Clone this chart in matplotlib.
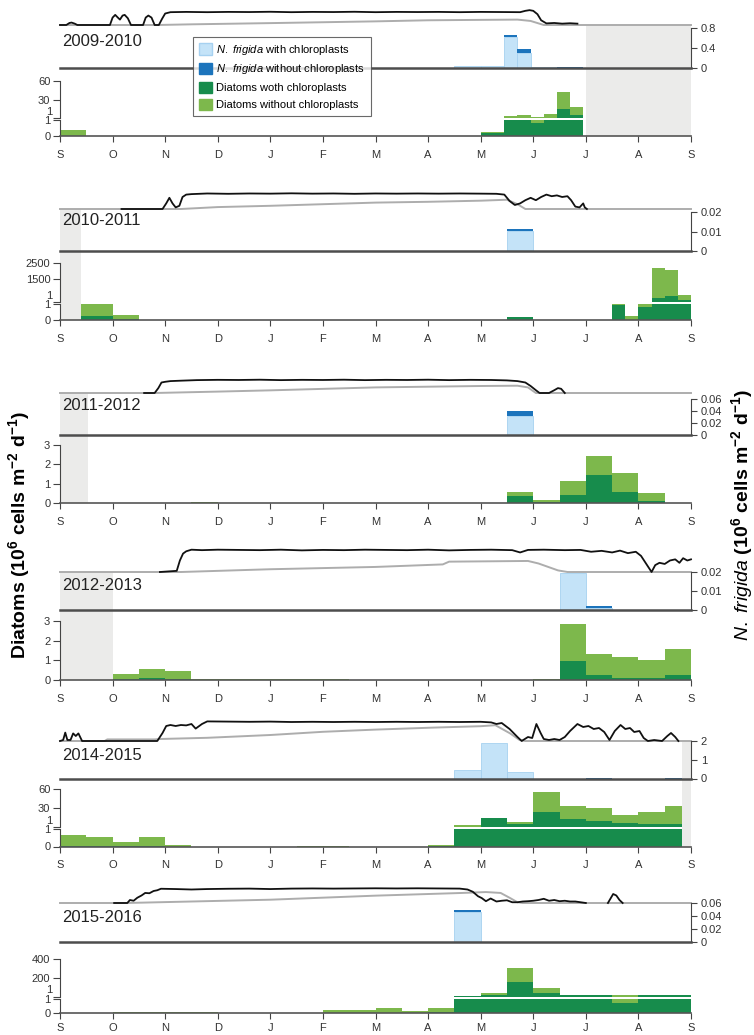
import numpy as np
import matplotlib
matplotlib.use("Agg")
import matplotlib.pyplot as plt
from matplotlib.patches import Patch

plt.rcParams["font.family"] = ["Liberation Sans Narrow", "Liberation Sans", "DejaVu Sans"]
plt.rcParams["mathtext.fontset"] = "custom"
plt.rcParams["mathtext.rm"] = "Liberation Sans"
plt.rcParams["mathtext.it"] = "Liberation Sans:italic"
plt.rcParams["mathtext.bf"] = "Liberation Sans:bold"

# colours
C_NF_CHL = "#c4e3f8"
C_NF_NO = "#1c74bc"
C_DIA_CHL = "#178c4c"
C_DIA_NO = "#7db84c"
C_GAP = "#ebebea"
C_AX = "#444444"

MONTHS = ["S", "O", "N", "D", "J", "F", "M", "A", "M", "J", "J", "A", "S"]

# time is in months since 1 September

# ---------------- 2009-2010 ----------------
t0_0910 = [0.0, 7.5, 8.0, 8.45, 8.7, 8.95, 9.2, 9.45, 9.7]
t1_0910 = [0.5, 8.0, 8.45, 8.7, 8.95, 9.2, 9.45, 9.7, 9.95]
nf_chl_0910 = [0, 0.05, 0.05, 0.63, 0.30, 0.015, 0.015, 0.008, 0.0]
nf_no_0910 = [0, 0, 0, 0.03, 0.08, 0, 0, 0.004, 0.02]
dia_chl_0910 = [0.02, 0.01, 0.17, 1.2, 1.5, 0.8, 1.5, 15, 6]
dia_no_0910 = [0.36, 0.01, 0.07, 2.8, 4.5, 1.7, 6.1, 28, 12]
gap_0910 = (10.0, 12.0)
conc_t_0910 = [0, 0.12, 0.18, 0.22, 0.28, 0.33, 0.95, 1.0, 1.05, 1.1, 1.14, 1.19, 1.23, 1.29, 1.35,
               1.58, 1.63, 1.68, 1.74, 1.8, 1.88, 1.94, 2.0, 2.1, 2.4, 2.8, 3.2, 3.6, 4.0, 4.4,
               4.8, 5.2, 5.6, 6.0, 6.4, 6.8, 7.2, 7.6, 8.0, 8.4, 8.75, 8.85, 8.93, 9.0, 9.08,
               9.15, 9.25, 9.4, 9.55, 9.7, 9.84]
conc_0910 = [0, 0, 0.15, 0.18, 0.1, 0, 0, 0.55, 0.75, 0.55, 0.4, 0.7, 0.75, 0.5, 0,
             0, 0.55, 0.7, 0.55, 0, 0, 0.45, 0.85, 0.95, 0.97, 0.95, 0.97, 0.96, 0.98, 0.95,
             0.97, 0.96, 0.98, 0.95, 0.97, 0.96, 0.97, 0.95, 0.97, 0.96, 0.95, 1.05, 1.1, 1.05, 0.8,
             0.35, 0.12, 0.15, 0.1, 0.13, 0.1]
thk_t_0910 = [0, 1.85, 2.5, 4.0, 6.0, 7.0, 8.0, 8.7, 8.95, 9.2, 12]
thk_0910 = [0, 0, 0.1, 0.28, 0.54, 0.7, 0.76, 0.8, 0.6, 0, 0]

# ---------------- 2010-2011 ----------------
t0_1011 = [0.4, 1.0, 8.5, 9.0, 9.5, 10.0, 10.5, 10.75, 11.0, 11.25, 11.5, 11.75]
t1_1011 = [1.0, 1.5, 9.0, 9.5, 10.0, 10.5, 10.75, 11.0, 11.25, 11.5, 11.75, 12.0]
nf_chl_1011 = [0, 0, 0.0105, 0, 0, 0, 0, 0, 0, 0, 0, 0]
nf_no_1011 = [0, 0, 0.0006, 0, 0, 0, 0, 0, 0, 0, 0, 0]
dia_chl_1011 = [0.27, 0.05, 0.17, 0.02, 0.01, 0.01, 0.95, 0.03, 0.8, 250, 375, 100]
dia_no_1011 = [0.78, 0.26, 0.03, 0.01, 0.01, 0.01, 0.15, 0.24, 0.25, 1900, 1700, 360]
gap_1011 = (0.0, 0.39)
conc_t_1011 = [1.17, 1.95, 2.02, 2.08, 2.14, 2.2, 2.27, 2.33, 2.4, 2.5,
               2.8, 3.2, 3.6, 4.0, 4.4, 4.8, 5.2, 5.6, 6.0, 6.4, 6.8, 7.2, 7.6, 8.0,
               8.3, 8.45, 8.55, 8.65, 8.75, 8.85, 8.95, 9.05, 9.15, 9.25, 9.35, 9.45, 9.55,
               9.65, 9.72, 9.8, 9.88, 9.95, 9.98, 10.02]
conc_1011 = [0, 0, 0.35, 0.7, 0.35, 0.1, 0.2, 0.75, 0.9, 0.93,
             0.97, 0.95, 0.97, 0.96, 0.98, 0.96, 0.97, 0.95, 0.97, 0.96, 0.97, 0.96, 0.97, 0.96,
             0.95, 0.9, 0.5, 0.25, 0.35, 0.55, 0.7, 0.55, 0.75, 0.9, 0.8, 0.85, 0.75,
             0.8, 0.55, 0.15, 0.1, 0.35, 0.1, 0.0]
thk_t_1011 = [0, 2.3, 3.0, 4.0, 5.0, 6.0, 7.0, 8.0, 8.5, 8.7, 8.85, 12]
thk_1011 = [0, 0, 0.24, 0.4, 0.6, 0.8, 0.9, 1.04, 1.16, 0.6, 0, 0]

# ---------------- 2011-2012 ----------------
t0_1112 = [2.5, 8.5, 9.0, 9.5, 10.0, 10.5, 11.0]
t1_1112 = [3.0, 9.0, 9.5, 10.0, 10.5, 11.0, 11.5]
nf_chl_1112 = [0, 0.031, 0, 0, 0, 0, 0]
nf_no_1112 = [0, 0.009, 0, 0, 0, 0, 0]
dia_chl_1112 = [0.0, 0.35, 0.05, 0.4, 1.43, 0.58, 0.08]
dia_no_1112 = [0.03, 0.22, 0.13, 0.75, 1.0, 0.99, 0.45]
gap_1112 = (0.0, 0.54)
conc_t_1112 = [1.6, 1.8, 1.87, 1.93, 2.0, 2.1, 2.3, 2.6,
               3.0, 3.4, 3.8, 4.2, 4.6, 5.0, 5.4, 5.8, 6.2, 6.6, 7.0, 7.4, 7.8, 8.2,
               8.5, 8.7, 8.85, 8.95, 9.05, 9.12, 9.3, 9.4, 9.47, 9.53, 9.6]
conc_1112 = [0, 0, 0.35, 0.75, 0.8, 0.85, 0.88, 0.92,
             0.94, 0.93, 0.95, 0.92, 0.94, 0.93, 0.95, 0.92, 0.94, 0.93, 0.95, 0.92, 0.94, 0.93,
             0.9, 0.85, 0.75, 0.5, 0.2, 0.0, 0.0, 0.2, 0.35, 0.3, 0.0]
thk_t_1112 = [0, 1.8, 3.0, 4.0, 6.0, 7.0, 8.0, 8.7, 8.9, 9.05, 12]
thk_1112 = [0, 0, 0.2, 0.38, 0.8, 0.9, 1.0, 1.04, 0.8, 0, 0]

# ---------------- 2012-2013 ----------------
t0_1213 = [1.0, 1.5, 2.0, 2.5, 3.0, 3.5, 4.0, 4.5, 5.0, 9.0, 9.5, 10.0, 10.5, 11.0, 11.5]
t1_1213 = [1.5, 2.0, 2.5, 3.0, 3.5, 4.0, 4.5, 5.0, 5.5, 9.5, 10.0, 10.5, 11.0, 11.5, 12.0]
nf_chl_1213 = [0, 0, 0, 0, 0, 0, 0, 0, 0, 0, 0.0193, 0.0008, 0, 0, 0]
nf_no_1213 = [0, 0, 0, 0, 0, 0, 0, 0, 0, 0, 0, 0.0013, 0, 0, 0]
dia_chl_1213 = [0.06, 0.1, 0.05, 0.01, 0.01, 0.01, 0.01, 0.01, 0.01, 0.0, 0.95, 0.25, 0.12, 0.12, 0.25]
dia_no_1213 = [0.25, 0.47, 0.43, 0.04, 0.05, 0.03, 0.05, 0.05, 0.04, 0.07, 1.9, 1.05, 1.05, 0.9, 1.35]
gap_1213 = (0.0, 1.0)
conc_t_1213 = [1.9, 2.22, 2.28, 2.34, 2.4, 2.5, 2.7,
               3.0, 3.4, 3.8, 4.2, 4.6, 5.0, 5.4, 5.8, 6.2, 6.6, 7.0, 7.4, 7.8, 8.2, 8.6,
               8.75, 8.9, 9.2, 9.6, 9.9, 10.1, 10.3, 10.5, 10.65, 10.8, 10.95, 11.05, 11.15,
               11.25, 11.32, 11.4, 11.5, 11.6, 11.7, 11.78, 11.85, 11.93, 12.0]
conc_1213 = [0, 0.05, 0.5, 0.8, 0.9, 0.97, 0.95,
             0.97, 0.96, 0.95, 0.97, 0.94, 0.96, 0.95, 0.97, 0.96, 0.95, 0.97, 0.94, 0.96, 0.97, 0.95,
             0.85, 0.96, 0.97, 0.95, 0.96, 0.88, 0.92, 0.85, 0.93, 0.82, 0.88, 0.7, 0.35,
             0.0, 0.3, 0.4, 0.35, 0.5, 0.55, 0.4, 0.6, 0.5, 0.55]
thk_t_1213 = [0, 2.3, 4.0, 6.0, 7.28, 7.4, 8.9, 9.1, 9.47, 9.65, 12]
thk_1213 = [0, 0, 0.24, 0.44, 0.66, 0.9, 0.96, 0.74, 0.14, 0, 0]

# ---------------- 2014-2015 ----------------
t0_1415 = [0.0, 0.5, 1.0, 1.5, 2.0, 4.5, 5.0, 7.0, 7.5, 8.0, 8.5, 9.0, 9.5, 10.0, 10.5, 11.0, 11.5]
t1_1415 = [0.5, 1.0, 1.5, 2.0, 2.5, 5.0, 5.5, 7.5, 8.0, 8.5, 9.0, 9.5, 10.0, 10.5, 11.0, 11.5, 11.82]
nf_chl_1415 = [0, 0, 0, 0, 0, 0, 0, 0, 0.45, 1.87, 0.36, 0, 0, 0, 0, 0, 0]
nf_no_1415 = [0, 0, 0, 0, 0, 0, 0, 0, 0, 0, 0, 0, 0, 0.02, 0, 0, 0.02]
dia_chl_1415 = [0.02, 0.01, 0.01, 0.01, 0.0, 0.0, 0.0, 0.02, 1.0, 15, 6, 24, 14, 10.5, 7, 5.5, 5.5]
dia_no_1415 = [0.61, 0.51, 0.27, 0.52, 0.06, 0.03, 0.03, 0.08, 3.0, 0.3, 3, 31, 19, 19.5, 13, 18.5, 27.5]
gap_1415 = (11.82, 12.0)
conc_t_1415 = [0.0, 0.06, 0.1, 0.14, 0.2, 0.25, 0.3, 0.35, 0.42,
               1.85, 1.95, 2.02, 2.1, 2.2, 2.3, 2.4, 2.5, 2.58, 2.7, 2.8,
               3.2, 3.6, 4.0, 4.4, 4.8, 5.2, 5.6, 6.0, 6.4, 6.8, 7.2, 7.6, 8.0,
               8.2, 8.3, 8.4, 8.55, 8.7, 8.78, 8.9, 8.98, 9.06, 9.14, 9.2, 9.3, 9.4, 9.5,
               9.6, 9.7, 9.84, 9.95, 10.05, 10.15, 10.25, 10.35, 10.45, 10.55, 10.66, 10.75,
               10.84, 10.92, 11.02, 11.1, 11.18, 11.3, 11.45, 11.55, 11.62, 11.7, 11.76]
conc_1415 = [0, 0.05, 0.42, 0.05, 0.05, 0.38, 0.25, 0.38, 0.0,
             0, 0.4, 0.75, 0.8, 0.75, 0.8, 0.78, 0.85, 0.62, 0.85, 0.98,
             0.97, 0.96, 0.97, 0.95, 0.96, 0.95, 0.96, 0.95, 0.96, 0.95, 0.96, 0.95, 0.96,
             0.93, 0.85, 0.9, 0.6, 0.2, 0.0, 0.2, 0.15, 0.85, 0.4, 0.1, 0.05, 0.1, 0.05,
             0.2, 0.5, 0.85, 0.7, 0.75, 0.6, 0.65, 0.45, 0.05, 0.5, 0.8, 0.6,
             0.65, 0.45, 0.5, 0.15, 0.0, 0.05, 0.0, 0.25, 0.4, 0.2, 0.0]
thk_t_1415 = [0, 0.85, 0.9, 1.8, 1.9, 2.8, 4.0, 5.0, 6.0, 7.1, 8.0, 8.28, 8.56, 8.74, 8.85, 12]
thk_1415 = [0, 0, 0.16, 0.16, 0.2, 0.32, 0.6, 0.92, 1.14, 1.34, 1.48, 1.58, 0.76, 0.1, 0, 0]

# ---------------- 2015-2016 ----------------
t0_1516 = [0.0, 0.5, 1.0, 1.5, 2.0, 2.5, 5.0, 5.5, 6.0, 6.5, 7.0, 7.5, 8.0, 8.5, 9.0, 9.5, 10.0,
           10.5, 11.0, 11.5]
t1_1516 = [0.5, 1.0, 1.5, 2.0, 2.5, 3.0, 5.5, 6.0, 6.5, 7.0, 7.5, 8.0, 8.5, 9.0, 9.5, 10.0, 10.5,
           11.0, 11.5, 12.0]
nf_chl_1516 = [0, 0, 0, 0, 0, 0, 0, 0, 0, 0, 0, 0.046, 0, 0, 0, 0, 0, 0, 0, 0]
nf_no_1516 = [0, 0, 0, 0, 0, 0, 0, 0, 0, 0, 0, 0.003, 0, 0, 0, 0, 0, 0, 0, 0]
dia_chl_1516 = [0.01, 0.01, 0.01, 0.02, 0.02, 0.02, 0.02, 0.03, 0.03, 0.03, 0.05, 3, 22, 160, 36,
                15, 15, 0.72, 15, 15]
dia_no_1516 = [0.02, 0.02, 0.03, 0.04, 0.05, 0.04, 0.17, 0.2, 0.3, 0.13, 0.28, 2, 21, 140, 53,
               3, 3, 15, 3, 3]
gap_1516 = None
conc_t_1516 = [1.03, 1.28, 1.33, 1.4, 1.47, 1.55, 1.62, 1.7, 1.78, 1.85, 1.92, 2.2, 2.5, 2.8,
               3.2, 3.6, 4.0, 4.4, 4.8, 5.2, 5.6, 6.0, 6.4, 6.8, 7.2, 7.6, 7.75, 7.85, 7.95,
               8.02, 8.1, 8.19, 8.3, 8.4, 8.5, 8.6, 8.7, 8.8, 8.9, 9.0, 9.1, 9.2, 9.3, 9.4,
               9.5, 9.6, 9.7, 9.8, 9.9, 10.0, 10.05, 10.42, 10.52, 10.58, 10.64, 10.7]
conc_1516 = [0, 0.0, 0.2, 0.15, 0.35, 0.5, 0.67, 0.65, 0.8, 0.85, 0.95, 0.93, 0.9, 0.93,
             0.95, 0.96, 0.93, 0.96, 0.97, 0.96, 0.97, 0.98, 0.97, 0.98, 0.97, 0.96, 0.9, 0.75, 0.45,
             0.33, 0.12, 0.3, 0.1, 0.15, 0.18, 0.05, 0.05, 0.1, 0.12, 0.15, 0.2, 0.28, 0.15, 0.2,
             0.12, 0.15, 0.1, 0.1, 0.05, 0, np.nan, 0, 0.6, 0.5, 0.2, 0.0]
thk_t_1516 = [0, 1.26, 2.5, 4.0, 6.0, 7.65, 8.1, 8.38, 8.56, 8.7, 8.8, 12]
thk_1516 = [0, 0, 0.2, 0.44, 0.98, 1.34, 1.46, 1.34, 0.66, 0.1, 0, 0]

seasons = [
    dict(year="2009-2010", t0=t0_0910, t1=t1_0910, nf_chl=nf_chl_0910, nf_no=nf_no_0910,
         dia_chl=dia_chl_0910, dia_no=dia_no_0910, gap=gap_0910,
         conc_t=conc_t_0910, conc=conc_0910, thk_t=thk_t_0910, thk=thk_0910,
         nf_ticks=[0, 0.4, 0.8], nf_labels=["0", "0.4", "0.8"],
         hi_ticks=[1, 30, 60], lo_ticks=[0, 1]),
    dict(year="2010-2011", t0=t0_1011, t1=t1_1011, nf_chl=nf_chl_1011, nf_no=nf_no_1011,
         dia_chl=dia_chl_1011, dia_no=dia_no_1011, gap=gap_1011,
         conc_t=conc_t_1011, conc=conc_1011, thk_t=thk_t_1011, thk=thk_1011,
         nf_ticks=[0, 0.01, 0.02], nf_labels=["0", "0.01", "0.02"],
         hi_ticks=[1, 1500, 2500], lo_ticks=[0, 1]),
    dict(year="2011-2012", t0=t0_1112, t1=t1_1112, nf_chl=nf_chl_1112, nf_no=nf_no_1112,
         dia_chl=dia_chl_1112, dia_no=dia_no_1112, gap=gap_1112,
         conc_t=conc_t_1112, conc=conc_1112, thk_t=thk_t_1112, thk=thk_1112,
         nf_ticks=[0, 0.02, 0.04, 0.06], nf_labels=["0", "0.02", "0.04", "0.06"],
         hi_ticks=None, lo_ticks=[0, 1, 2, 3]),
    dict(year="2012-2013", t0=t0_1213, t1=t1_1213, nf_chl=nf_chl_1213, nf_no=nf_no_1213,
         dia_chl=dia_chl_1213, dia_no=dia_no_1213, gap=gap_1213,
         conc_t=conc_t_1213, conc=conc_1213, thk_t=thk_t_1213, thk=thk_1213,
         nf_ticks=[0, 0.01, 0.02], nf_labels=["0", "0.01", "0.02"],
         hi_ticks=None, lo_ticks=[0, 1, 2, 3]),
    dict(year="2014-2015", t0=t0_1415, t1=t1_1415, nf_chl=nf_chl_1415, nf_no=nf_no_1415,
         dia_chl=dia_chl_1415, dia_no=dia_no_1415, gap=gap_1415,
         conc_t=conc_t_1415, conc=conc_1415, thk_t=thk_t_1415, thk=thk_1415,
         nf_ticks=[0, 1, 2], nf_labels=["0", "1", "2"],
         hi_ticks=[1, 30, 60], lo_ticks=[0, 1]),
    dict(year="2015-2016", t0=t0_1516, t1=t1_1516, nf_chl=nf_chl_1516, nf_no=nf_no_1516,
         dia_chl=dia_chl_1516, dia_no=dia_no_1516, gap=gap_1516,
         conc_t=conc_t_1516, conc=conc_1516, thk_t=thk_t_1516, thk=thk_1516,
         nf_ticks=[0, 0.02, 0.04, 0.06], nf_labels=["0", "0.02", "0.04", "0.06"],
         hi_ticks=[1, 200, 400], lo_ticks=[0, 1]),
]

# pixel rows of each block: ice top/base, nf top/base, upper diatom top/base,
# lower diatom top/base, year label, month label pad
rows = [
    (11.5, 25, 28, 68, 81, 118, 120, 136, 41, 6),
    (193, 209, 212, 251, 263, 302, 304, 320, 220, 6),
    (379, 393, 399, 435, None, None, 445, 503, 405, 6),
    (549, 572, 572, 610, None, None, 621, 680, 586, 6),
    (721, 741, 741, 778.5, 789, 827, 829, 846.5, 755, 6),
    (888, 903, 903, 942, 959, 996.5, 999, 1013, 917, 3.5),
]

W, H = 754, 1035
X0, X1 = 60, 691

fig = plt.figure(figsize=(W / 100, H / 100), dpi=100)


def rect(top, bot):
    return [X0 / W, 1 - bot / H, (X1 - X0) / W, (bot - top) / H]


def clean(ax):
    ax.set_xlim(0, 12)
    ax.set_facecolor("none")
    for sp in ax.spines.values():
        sp.set_visible(False)
    ax.set_xticks([])


def stacked(ax, s, a, b, ca, cb, edge=None):
    w = np.subtract(s["t1"], s["t0"])
    ax.bar(s["t0"], s[a], width=w, align="edge", color=ca, linewidth=0.6 if edge else 0,
           edgecolor=edge)
    ax.bar(s["t0"], s[b], width=w, bottom=s[a], align="edge", color=cb, linewidth=0)


def left_axis(ax, ticks, labels):
    ax.spines["left"].set_visible(True)
    ax.spines["left"].set_color(C_AX)
    ax.spines["left"].set_linewidth(0.8)
    ax.spines["left"].set_bounds(ticks[0], ticks[-1])
    ax.set_yticks(ticks, labels)
    ax.tick_params(axis="y", length=5, width=0.8, color=C_AX, labelcolor="#333333",
                   labelsize=8, pad=2)


for s, (it, ib, nt, nb, ht, hb, lt, lb, yy, mpad) in zip(seasons, rows):
    # shaded gap behind everything
    bg = fig.add_axes(rect(ib, lb))
    bg.set_zorder(-1)
    bg.set_xlim(0, 12)
    bg.axis("off")
    if s["gap"] is not None:
        bg.axvspan(s["gap"][0], s["gap"][1], color=C_GAP, lw=0)

    # ice thickness and ice cover
    ax_thk = fig.add_axes(rect(it, ib))
    ax_thk.set_xlim(0, 12)
    ax_thk.set_ylim(0, 2.0)
    ax_thk.axis("off")
    ax_thk.plot(s["thk_t"], s["thk"], color="#adadad", lw=1.4, clip_on=False)
    ax_ice = fig.add_axes(rect(it, ib))
    ax_ice.set_xlim(0, 12)
    ax_ice.set_ylim(0, 1)
    ax_ice.axis("off")
    ax_ice.plot(s["conc_t"], s["conc"], color="#111111", lw=1.3, clip_on=False)

    # N. frigida flux
    ax_nf = fig.add_axes(rect(nt, nb))
    clean(ax_nf)
    top = s["nf_ticks"][-1]
    ax_nf.set_ylim(0, top)
    stacked(ax_nf, s, "nf_chl", "nf_no", C_NF_CHL, C_NF_NO, edge="#a6d1f0")
    ax_nf.spines["bottom"].set_visible(True)
    ax_nf.spines["bottom"].set_linewidth(1.8)
    ax_nf.spines["bottom"].set_color("#4d4d4d")
    ax_nf.spines["right"].set_visible(True)
    ax_nf.spines["right"].set_color(C_AX)
    ax_nf.spines["right"].set_linewidth(0.8)
    ax_nf.spines["right"].set_bounds(0, top)
    ax_nf.yaxis.tick_right()
    ax_nf.set_yticks(s["nf_ticks"], s["nf_labels"])
    ax_nf.tick_params(axis="y", length=4, width=0.8, color=C_AX, labelcolor="#333333",
                      labelsize=8, pad=3)

    fig.text(62 / W, 1 - yy / H, s["year"], fontsize=12, ha="left", va="center",
             family=["Liberation Sans", "DejaVu Sans"], color="#222222")

    # diatom flux, broken scale where needed
    ax_lo = fig.add_axes(rect(lt, lb))
    clean(ax_lo)
    if s["hi_ticks"] is not None:
        ax_hi = fig.add_axes(rect(ht, hb))
        clean(ax_hi)
        hi = s["hi_ticks"]
        ax_hi.set_ylim(1, hi[-1])
        stacked(ax_hi, s, "dia_chl", "dia_no", C_DIA_CHL, C_DIA_NO)
        left_axis(ax_hi, hi, [""] + [str(v) for v in hi[1:]])
        ax_hi.annotate("1", xy=(0, 1), xycoords=ax_hi.get_yaxis_transform(),
                       xytext=(-5.5, 4.5), textcoords="offset points", ha="right",
                       va="center", fontsize=8, color="#333333")
        ax_lo.set_ylim(0, 1)
    else:
        ax_lo.set_ylim(0, s["lo_ticks"][-1])
    stacked(ax_lo, s, "dia_chl", "dia_no", C_DIA_CHL, C_DIA_NO)
    left_axis(ax_lo, s["lo_ticks"], [str(v) for v in s["lo_ticks"]])
    ax_lo.spines["bottom"].set_visible(True)
    ax_lo.spines["bottom"].set_linewidth(1.2)
    ax_lo.spines["bottom"].set_color("#555555")
    ax_lo.set_xticks(range(13), MONTHS)
    ax_lo.tick_params(axis="x", length=4, width=0.8, color=C_AX, labelcolor="#333333",
                      labelsize=8, pad=mpad)

# legend in the first block
handles = [Patch(facecolor=C_NF_CHL, edgecolor="#a6d1f0"),
           Patch(facecolor=C_NF_NO, edgecolor=C_NF_NO),
           Patch(facecolor=C_DIA_CHL, edgecolor=C_DIA_CHL),
           Patch(facecolor=C_DIA_NO, edgecolor=C_DIA_NO)]
labels = [r"$\mathit{N.\ frigida}$ with chloroplasts",
          r"$\mathit{N.\ frigida}$ without chloroplasts",
          "Diatoms woth chloroplasts",
          "Diatoms without chloroplasts"]
leg = fig.legend(handles, labels, loc="upper left", bbox_to_anchor=(193 / W, 1 - 37 / H),
                 fontsize=8, frameon=True, fancybox=False, edgecolor="#444444",
                 handlelength=1.2, handleheight=1.2, handletextpad=0.4, labelspacing=0.5,
                 borderpad=0.5, borderaxespad=0)
leg.get_frame().set_linewidth(0.8)

ylab_font = dict(fontsize=14, fontweight="bold", family=["Liberation Sans", "DejaVu Sans"])
fig.text(19 / W, 1 - 535 / H, r"Diatoms (10$^\mathbf{6}$ cells m$^\mathbf{-2}$ d$^\mathbf{-1}$)",
         rotation=90, ha="center", va="center", **ylab_font)
fig.text(742 / W, 1 - 515 / H,
         r"$\mathit{N.\ frigida}$ (10$^\mathbf{6}$ cells m$^\mathbf{-2}$ d$^\mathbf{-1}$)",
         rotation=90, ha="center", va="center", **ylab_font)

fig.savefig("out.png", dpi=100)
